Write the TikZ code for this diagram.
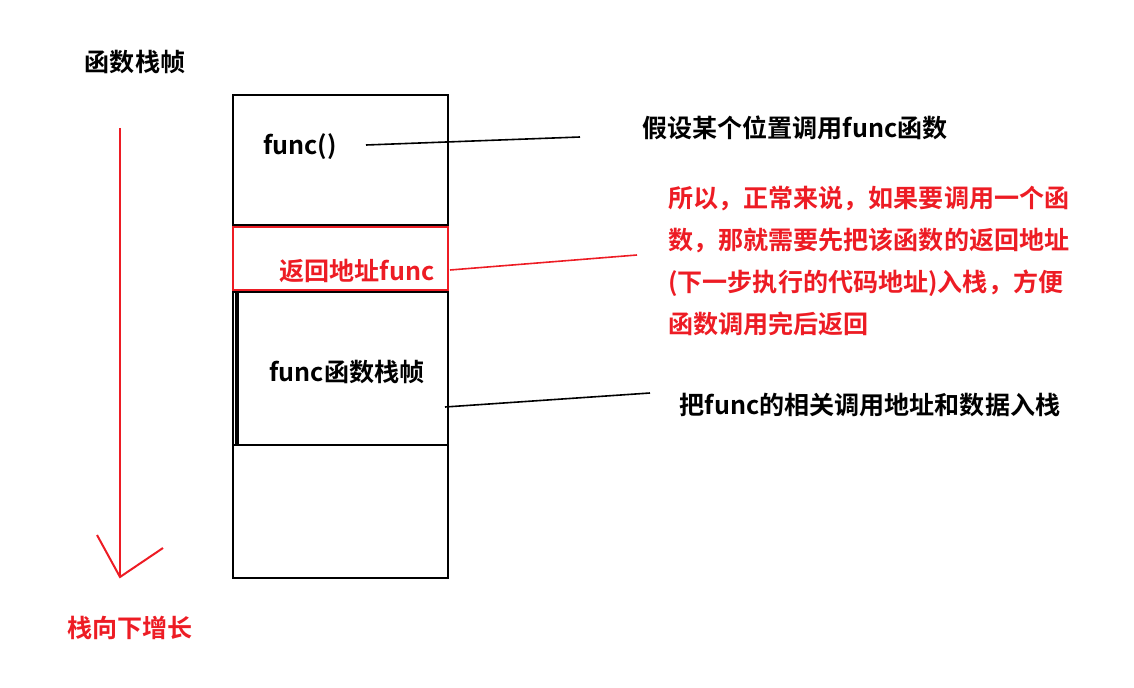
\documentclass[tikz,border=0pt]{standalone}
\usepackage{fontspec}
\setmainfont{Noto Sans CJK SC Bold}
\definecolor{myred}{RGB}{237,28,36}
\begin{document}
\begin{tikzpicture}[x=0.75pt,y=-0.75pt,
  txt/.style={font=\fontsize{18.8}{24}\selectfont,inner sep=0pt},
  rtxt/.style={txt,text=myred}]
\useasboundingbox (0,0) rectangle (1134,688);
\node[txt] (title) at (135,62) {函数栈帧};
\coordinate (a1) at (120,128); \coordinate (a2) at (120,577);
\draw[myred,line width=1.5pt] (a1) -- (a2);
\draw[myred,line width=1.5pt] (97,535) -- (a2) -- (163,548);
\node[rtxt] (grow) at (130,628) {栈向下增长};
\draw[line width=1.5pt] (233,95) rectangle (448,578);
\draw[line width=1.5pt] (233,225) -- (448,225);
\draw[line width=1.5pt] (233,292) -- (448,292);
\draw[line width=2.5pt] (237,292) -- (237,445);
\draw[line width=1.5pt] (233,445) -- (448,445);
\draw[myred,line width=1.5pt] (233,227) rectangle (448,290);
\node[txt] (f) at (300,147) {func()};
\coordinate (l1) at (580,137);
\draw[line width=1.2pt] (366,145) -- (l1);
\node[txt] (t1) at (795,128) {假设某个位置调用func函数};
\node[rtxt] (ret) at (357,271) {返回地址func};
\coordinate (l2) at (637,255);
\draw[myred,line width=1.2pt] (450,270) -- (l2);
\node[rtxt,anchor=north west,align=left,font=\fontsize{18.8}{31.5}\selectfont] (t2) at (668,186)
 {所以，正常来说，如果要调用一个函\\数，那就需要先把该函数的返回地址\\(下一步执行的代码地址)入栈，方便\\函数调用完后返回};
\node[txt] (ff) at (347,372) {func函数栈帧};
\coordinate (l3) at (650,393);
\draw[line width=1.2pt] (445,407) -- (l3);
\node[txt] (t3) at (870,405) {把func的相关调用地址和数据入栈};
\end{tikzpicture}
\end{document}
